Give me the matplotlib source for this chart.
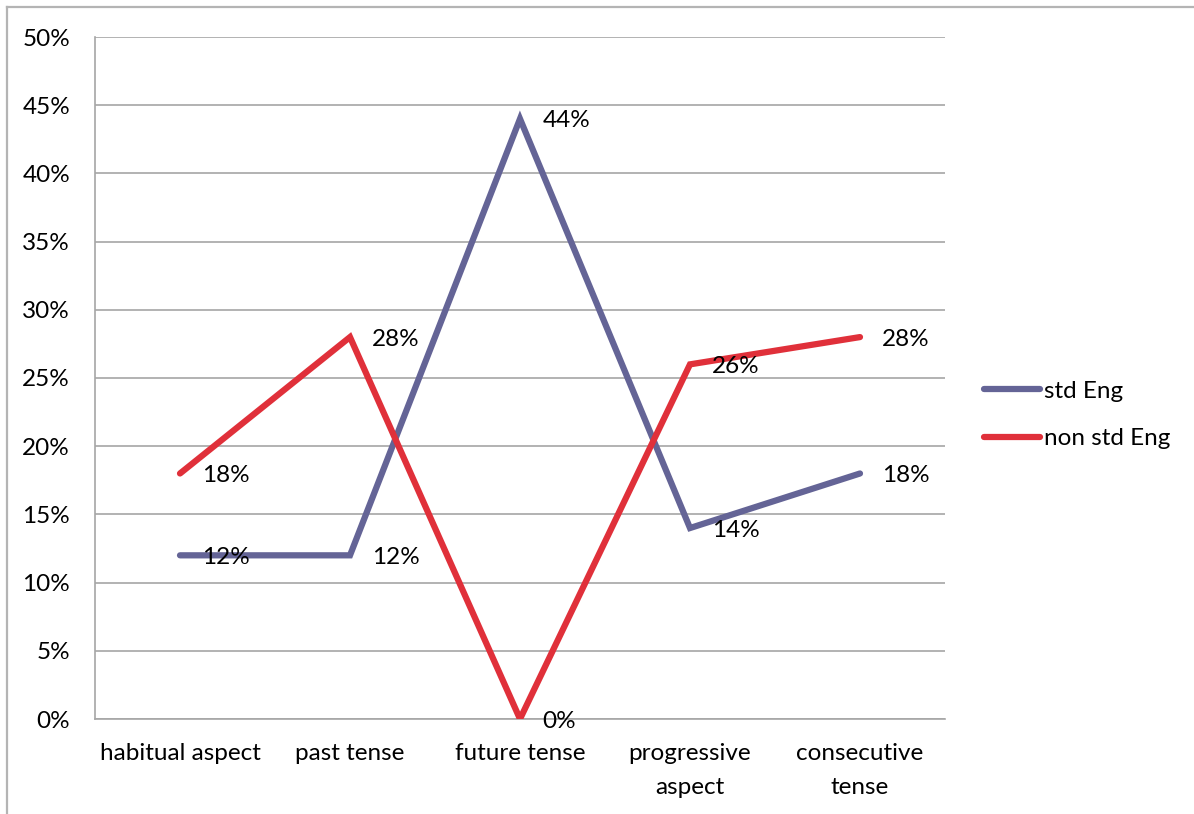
import matplotlib
matplotlib.use("Agg")
import matplotlib.pyplot as plt
from matplotlib.lines import Line2D
from matplotlib.ticker import FuncFormatter, MultipleLocator

plt.rcParams['font.family'] = ['Lato', 'DejaVu Sans']

categories = ["habitual aspect", "past tense", "future tense", "progressive\naspect", "consecutive\ntense"]
std_eng = [12, 12, 44, 14, 18]
non_std_eng = [18, 28, 0, 26, 28]
series_names = ["std Eng", "non std Eng"]

W, H = 1194, 814
fig = plt.figure(figsize=(W / 100, H / 100), dpi=100)
ax = fig.add_axes([95 / W, 1 - 719 / H, (945 - 95) / W, (719 - 37) / H])

x = list(range(len(categories)))
c_std = "#646496"
c_non = "#e0303a"
fs = 17.5

ax.plot(x, std_eng, color=c_std, lw=4.5, solid_capstyle="round", solid_joinstyle="miter", label=series_names[0], zorder=3)
ax.plot(x, non_std_eng, color=c_non, lw=4.5, solid_capstyle="round", solid_joinstyle="miter", label=series_names[1], zorder=3)

for xs, v in zip(x, std_eng):
    ax.annotate(f"{v}%", (xs, v), xytext=(16, -1.5), textcoords="offset points",
                ha="left", va="center", fontsize=fs, color="black", zorder=4)
for xs, v in zip(x, non_std_eng):
    ax.annotate(f"{v}%", (xs, v), xytext=(16, -1.5), textcoords="offset points",
                ha="left", va="center", fontsize=fs, color="black", zorder=4)

ax.set_xlim(-0.5, len(categories) - 0.5)
ax.set_ylim(0, 50)
ax.yaxis.set_major_locator(MultipleLocator(5))
ax.yaxis.set_major_formatter(FuncFormatter(lambda v, p: f"{int(round(v))}%"))
ax.set_xticks(x)
ax.set_xticklabels(categories, fontsize=fs, linespacing=1.75)
ax.tick_params(axis="y", length=0, pad=18, labelsize=fs)
ax.tick_params(axis="x", length=0, pad=17.5)
ax.grid(axis="y", color="#a6a6a6", lw=1.2)
ax.set_axisbelow(True)
for s in ["top", "right"]:
    ax.spines[s].set_visible(False)
for s in ["left", "bottom"]:
    ax.spines[s].set_color("#a6a6a6")
    ax.spines[s].set_linewidth(1.2)

leg = fig.legend(loc="center left", bbox_to_anchor=(972 / W, 1 - 415 / H), frameon=False,
                 fontsize=fs, handlelength=2.3, handletextpad=0.15, labelspacing=1.1, borderpad=0)

# outer chart border
fig.add_artist(Line2D([7 / W, 7 / W], [0, 1 - 7 / H], transform=fig.transFigure, color="#b4b4b4", lw=1.6))
fig.add_artist(Line2D([7 / W, 1], [1 - 7 / H, 1 - 7 / H], transform=fig.transFigure, color="#b4b4b4", lw=1.6))

fig.savefig("out.png", dpi=100, facecolor="white")
